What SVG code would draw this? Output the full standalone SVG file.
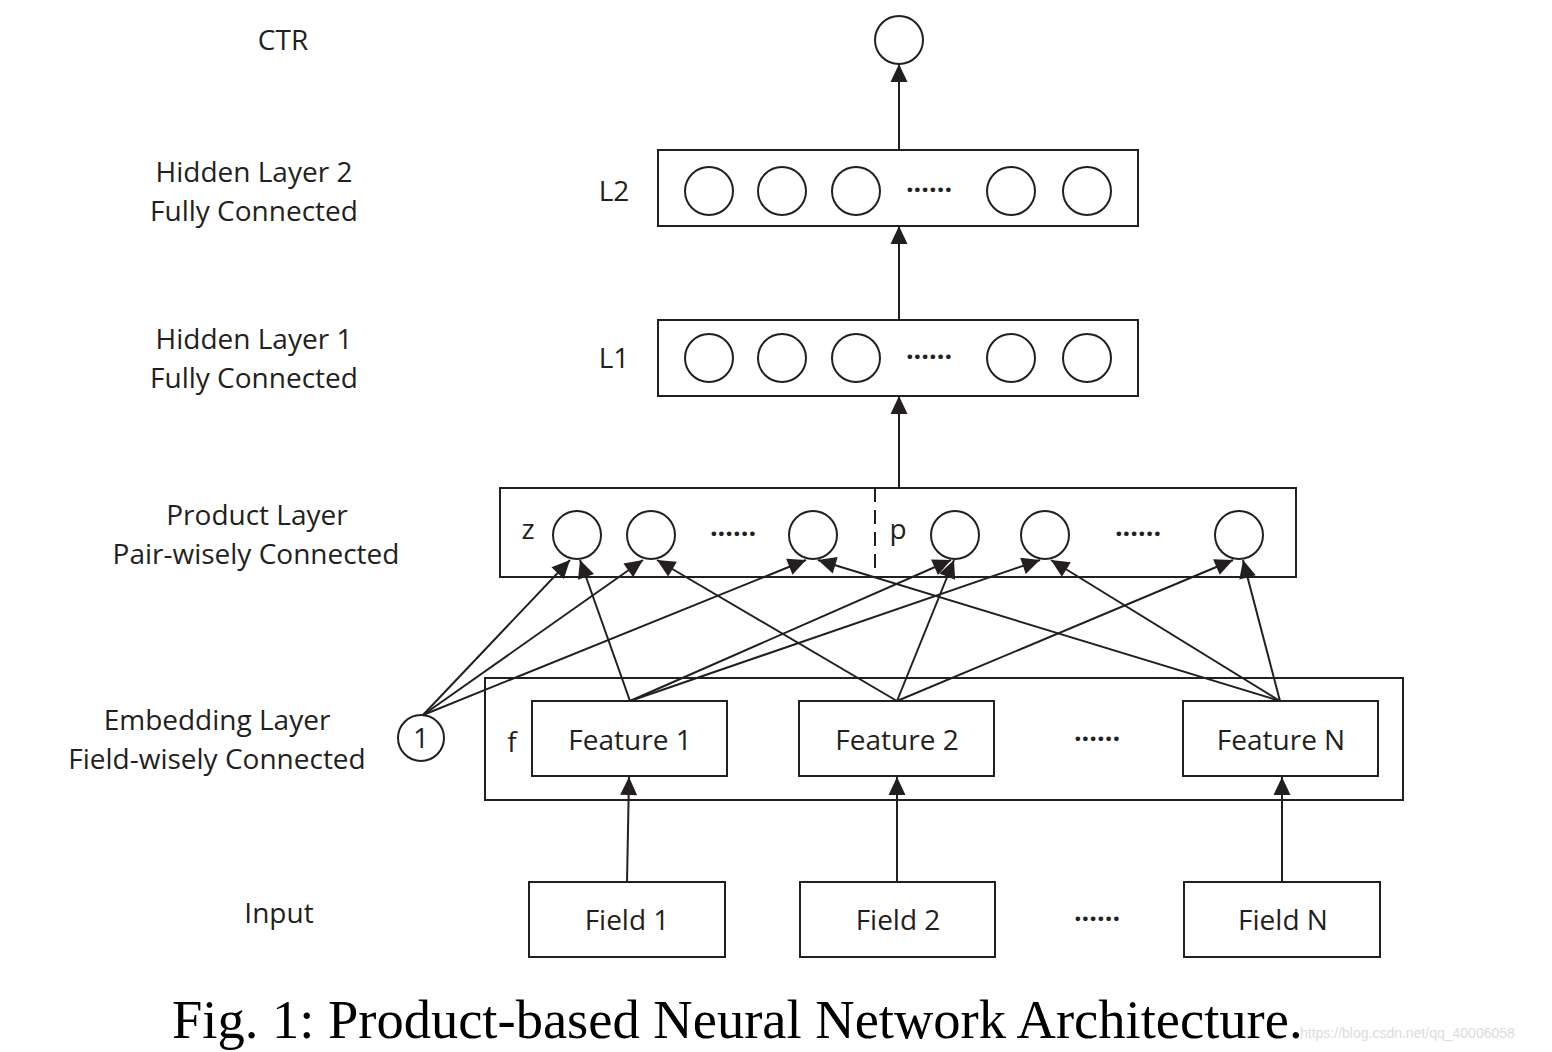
<svg xmlns="http://www.w3.org/2000/svg" width="1552" height="1052" viewBox="0 0 1552 1052">
<defs>
<marker id="ah" markerUnits="userSpaceOnUse" markerWidth="20" markerHeight="18" refX="18" refY="9" orient="auto" overflow="visible">
<path d="M0,0.5 L18,9 L0,17.5 z" fill="#231f20"/>
</marker>
<style>
.box{fill:none;stroke:#231f20;stroke-width:2}
.nd{fill:#fff;stroke:#231f20;stroke-width:2}
.lbl{font-family:"Open Sans","Liberation Sans",Arial,sans-serif;font-size:28px;fill:#231f20;text-anchor:middle;dominant-baseline:central}
.dots{font-family:"Open Sans","Liberation Sans",Arial,sans-serif;font-size:27px;font-weight:bold;fill:#231f20;text-anchor:middle}
.cn line{stroke:#231f20;stroke-width:2;marker-end:url(#ah)}
</style>
</defs>
<rect width="1552" height="1052" fill="#fff"/>

<g id="left-labels">
<text class="lbl" x="283" y="39">CTR</text>
<text class="lbl" x="254" y="171">Hidden Layer 2</text>
<text class="lbl" x="254" y="210">Fully Connected</text>
<text class="lbl" x="254" y="338">Hidden Layer 1</text>
<text class="lbl" x="254" y="377">Fully Connected</text>
<text class="lbl" x="257" y="514">Product Layer</text>
<text class="lbl" x="256" y="553">Pair-wisely Connected</text>
<text class="lbl" x="217" y="719">Embedding Layer</text>
<text class="lbl" x="217" y="758">Field-wisely Connected</text>
<text class="lbl" x="279" y="912">Input</text>
</g>

<g id="ctr">
<circle class="nd" cx="899" cy="40" r="24"/>
</g>

<g id="l2">
<rect class="box" x="658" y="150" width="480" height="76"/>
<text class="lbl" x="614" y="190">L2</text>
<circle class="nd" cx="709" cy="191" r="24"/>
<circle class="nd" cx="782" cy="191" r="24"/>
<circle class="nd" cx="856" cy="191" r="24"/>
<text class="dots" x="929" y="192">......</text>
<circle class="nd" cx="1011" cy="191" r="24"/>
<circle class="nd" cx="1087" cy="191" r="24"/>
</g>

<g id="l1">
<rect class="box" x="658" y="320" width="480" height="76"/>
<text class="lbl" x="614" y="357">L1</text>
<circle class="nd" cx="709" cy="358" r="24"/>
<circle class="nd" cx="782" cy="358" r="24"/>
<circle class="nd" cx="856" cy="358" r="24"/>
<text class="dots" x="929" y="359">......</text>
<circle class="nd" cx="1011" cy="358" r="24"/>
<circle class="nd" cx="1087" cy="358" r="24"/>
</g>

<g id="product">
<rect class="box" x="500" y="488" width="796" height="89"/>
<line x1="875" y1="488" x2="875" y2="577" stroke="#231f20" stroke-width="2" stroke-dasharray="14,8"/>
<text class="lbl" x="528" y="528">z</text>
<text class="lbl" x="898" y="528">p</text>
<circle class="nd" cx="577" cy="535" r="24"/>
<circle class="nd" cx="651" cy="535" r="24"/>
<text class="dots" x="733" y="536">......</text>
<circle class="nd" cx="813" cy="535" r="24"/>
<circle class="nd" cx="955" cy="535" r="24"/>
<circle class="nd" cx="1045" cy="535" r="24"/>
<text class="dots" x="1138" y="536">......</text>
<circle class="nd" cx="1239" cy="535" r="24"/>
</g>

<g id="embedding">
<rect class="box" x="485" y="678" width="918" height="122"/>
<text class="lbl" x="512" y="741">f</text>
<text class="dots" x="1097" y="741">......</text>
</g>

<g id="feature1">
<rect class="box" x="532" y="701" width="195" height="75"/>
<text class="lbl" x="630" y="739">Feature 1</text>
</g>
<g id="feature2">
<rect class="box" x="799" y="701" width="195" height="75"/>
<text class="lbl" x="897" y="739">Feature 2</text>
</g>
<g id="featureN">
<rect class="box" x="1183" y="701" width="195" height="75"/>
<text class="lbl" x="1281" y="739">Feature N</text>
</g>

<g id="one">
<circle class="nd" cx="421" cy="738" r="23"/>
<text class="lbl" x="421" y="737">1</text>
</g>

<g id="field1">
<rect class="box" x="529" y="882" width="196" height="75"/>
<text class="lbl" x="627" y="919">Field 1</text>
</g>
<g id="field2">
<rect class="box" x="800" y="882" width="195" height="75"/>
<text class="lbl" x="898" y="919">Field 2</text>
</g>
<g id="fieldN">
<rect class="box" x="1184" y="882" width="196" height="75"/>
<text class="lbl" x="1283" y="919">Field N</text>
</g>
<text class="dots" x="1097" y="921">......</text>

<g class="cn" id="connectors">
<line x1="899" y1="150" x2="899" y2="64"/>
<line x1="899" y1="320" x2="899" y2="226"/>
<line x1="899" y1="488" x2="899" y2="396"/>
<line x1="423" y1="715" x2="570" y2="560"/>
<line x1="423" y1="715" x2="643" y2="560"/>
<line x1="423" y1="715" x2="806" y2="560"/>
<line x1="630" y1="701" x2="580" y2="560"/>
<line x1="630" y1="701" x2="951" y2="560"/>
<line x1="630" y1="701" x2="1040" y2="560"/>
<line x1="897" y1="701" x2="657" y2="560"/>
<line x1="897" y1="701" x2="954" y2="560"/>
<line x1="897" y1="701" x2="1233" y2="560"/>
<line x1="1280" y1="701" x2="818" y2="560"/>
<line x1="1280" y1="701" x2="1051" y2="560"/>
<line x1="1280" y1="701" x2="1243" y2="560"/>
<line x1="627" y1="882" x2="629" y2="777"/>
<line x1="897" y1="882" x2="897" y2="777"/>
<line x1="1282" y1="882" x2="1282" y2="777"/>
</g>

<text x="172" y="1038" font-family="Liberation Serif,'Times New Roman',serif" font-size="54.5" fill="#000">Fig. 1: Product-based Neural Network Architecture.</text>
<text x="1300" y="1038" font-family="Liberation Sans,Arial,sans-serif" font-size="14" fill="#dcdcdc">https://blog.csdn.net/qq_40006058</text>
</svg>
